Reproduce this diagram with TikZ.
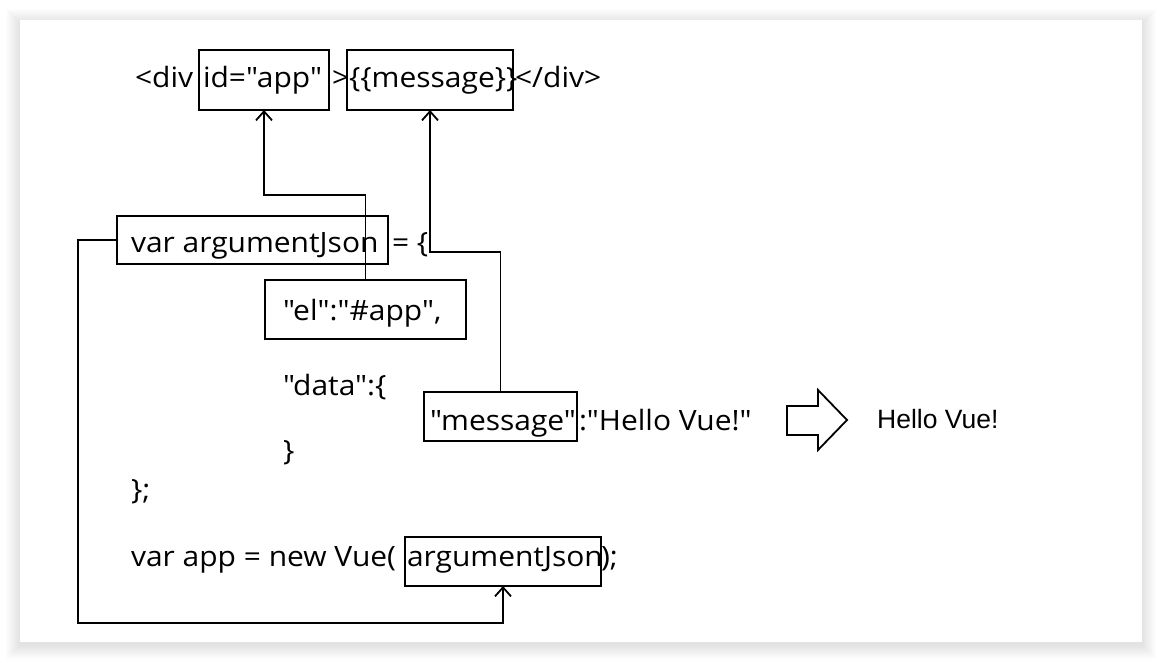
\documentclass[tikz,border=0pt]{standalone}
\usepackage{fontspec}
\newfontfamily\mainf{Open Sans}[FakeStretch=1.07]
\newfontfamily\hvfont{Liberation Sans}
\usetikzlibrary{arrows.meta}
\tikzset{
  txt/.style={anchor=base west, inner sep=0pt, outer sep=0pt, font=\mainf\fontsize{28}{32}\selectfont},
  hv/.style={anchor=base west, inner sep=0pt, font=\hvfont\fontsize{26.5}{30}\selectfont},
  box/.style={draw, line width=1.8pt, inner sep=0pt, outer sep=0pt, anchor=north west},
  conn/.style={line width=1.8pt, -{Straight Barb[length=9pt,width=16pt,line width=1.8pt]}},
  blockarrow/.style={draw, line width=1.8pt, fill=white, line join=miter}
}
\begin{document}
\begin{tikzpicture}[x=1pt,y=-1pt]
\useasboundingbox (0,0) rectangle (1162,662);
\fill[white] (0,0) rectangle (1162,662);
% shadow
\foreach \i in {1,...,14}{
  \fill[black, opacity=0.007] (20-\i,20-\i+3) rectangle (1142+\i,642+\i+3);
}
\fill[white] (20,20) rectangle (1142,642);

% boxes
\node[box, minimum width=130pt, minimum height=60pt] (b1) at (199,50) {};
\node[box, minimum width=166pt, minimum height=60pt] (b2) at (347,50) {};
\node[box, minimum width=271pt, minimum height=48pt] (b3) at (117,216) {};
\node[box, minimum width=201pt, minimum height=59pt] (b4) at (265,280) {};
\node[box, minimum width=153pt, minimum height=49pt] (b5) at (424,392) {};
\node[box, minimum width=196pt, minimum height=49pt] (b6) at (405,537) {};

% line 1
\node[txt] (t1a) at (135,87) {<div};
\node[txt] (t1b) at (203,87) {id="app"};
\node[txt] (t1c) at (332,87) {>};
\node[txt] (t1d) at (349,87) {\{\{message\}\}};
\node[txt] (t1e) at (515,87) {</div>};
% line 2
\node[txt] (t2a) at (131,252) {var argumentJson};
\node[txt] (t2b) at (392,252) {= \{};
% el
\node[txt] (t3) at (283,320) {"el":"\#app",};
% data
\node[txt] (t4) at (283,395) {"data":\{};
% message
\node[txt] (t5a) at (430,430) {"message"};
\node[txt] (t5b) at (579,430) {:"Hello Vue!"};
% closing
\node[txt] (t6) at (283,460) {\}};
\node[txt] (t7) at (131,499) {\};};
% last line
\node[txt] (t8a) at (131,566) {var app = new Vue(};
\node[txt] (t8b) at (407,566) {argumentJson};
\node[txt] (t8c) at (601,566) {);};

% result
\draw[blockarrow] (787,406) -- (818,406) -- (818,390) -- (847,420) -- (818,450) -- (818,435) -- (787,435) -- cycle;
\node[hv] (res) at (877,428) {Hello Vue!};

% connectors
\draw[conn] (b4.north) -- ++(0,-85) -| (b1.south);
\draw[conn] (b5.north) -- ++(0,-140) -| (b2.south);
\coordinate (c1) at (78,623);
\draw[conn] (b3.west) -| (c1) -| (b6.south);
\end{tikzpicture}
\end{document}
